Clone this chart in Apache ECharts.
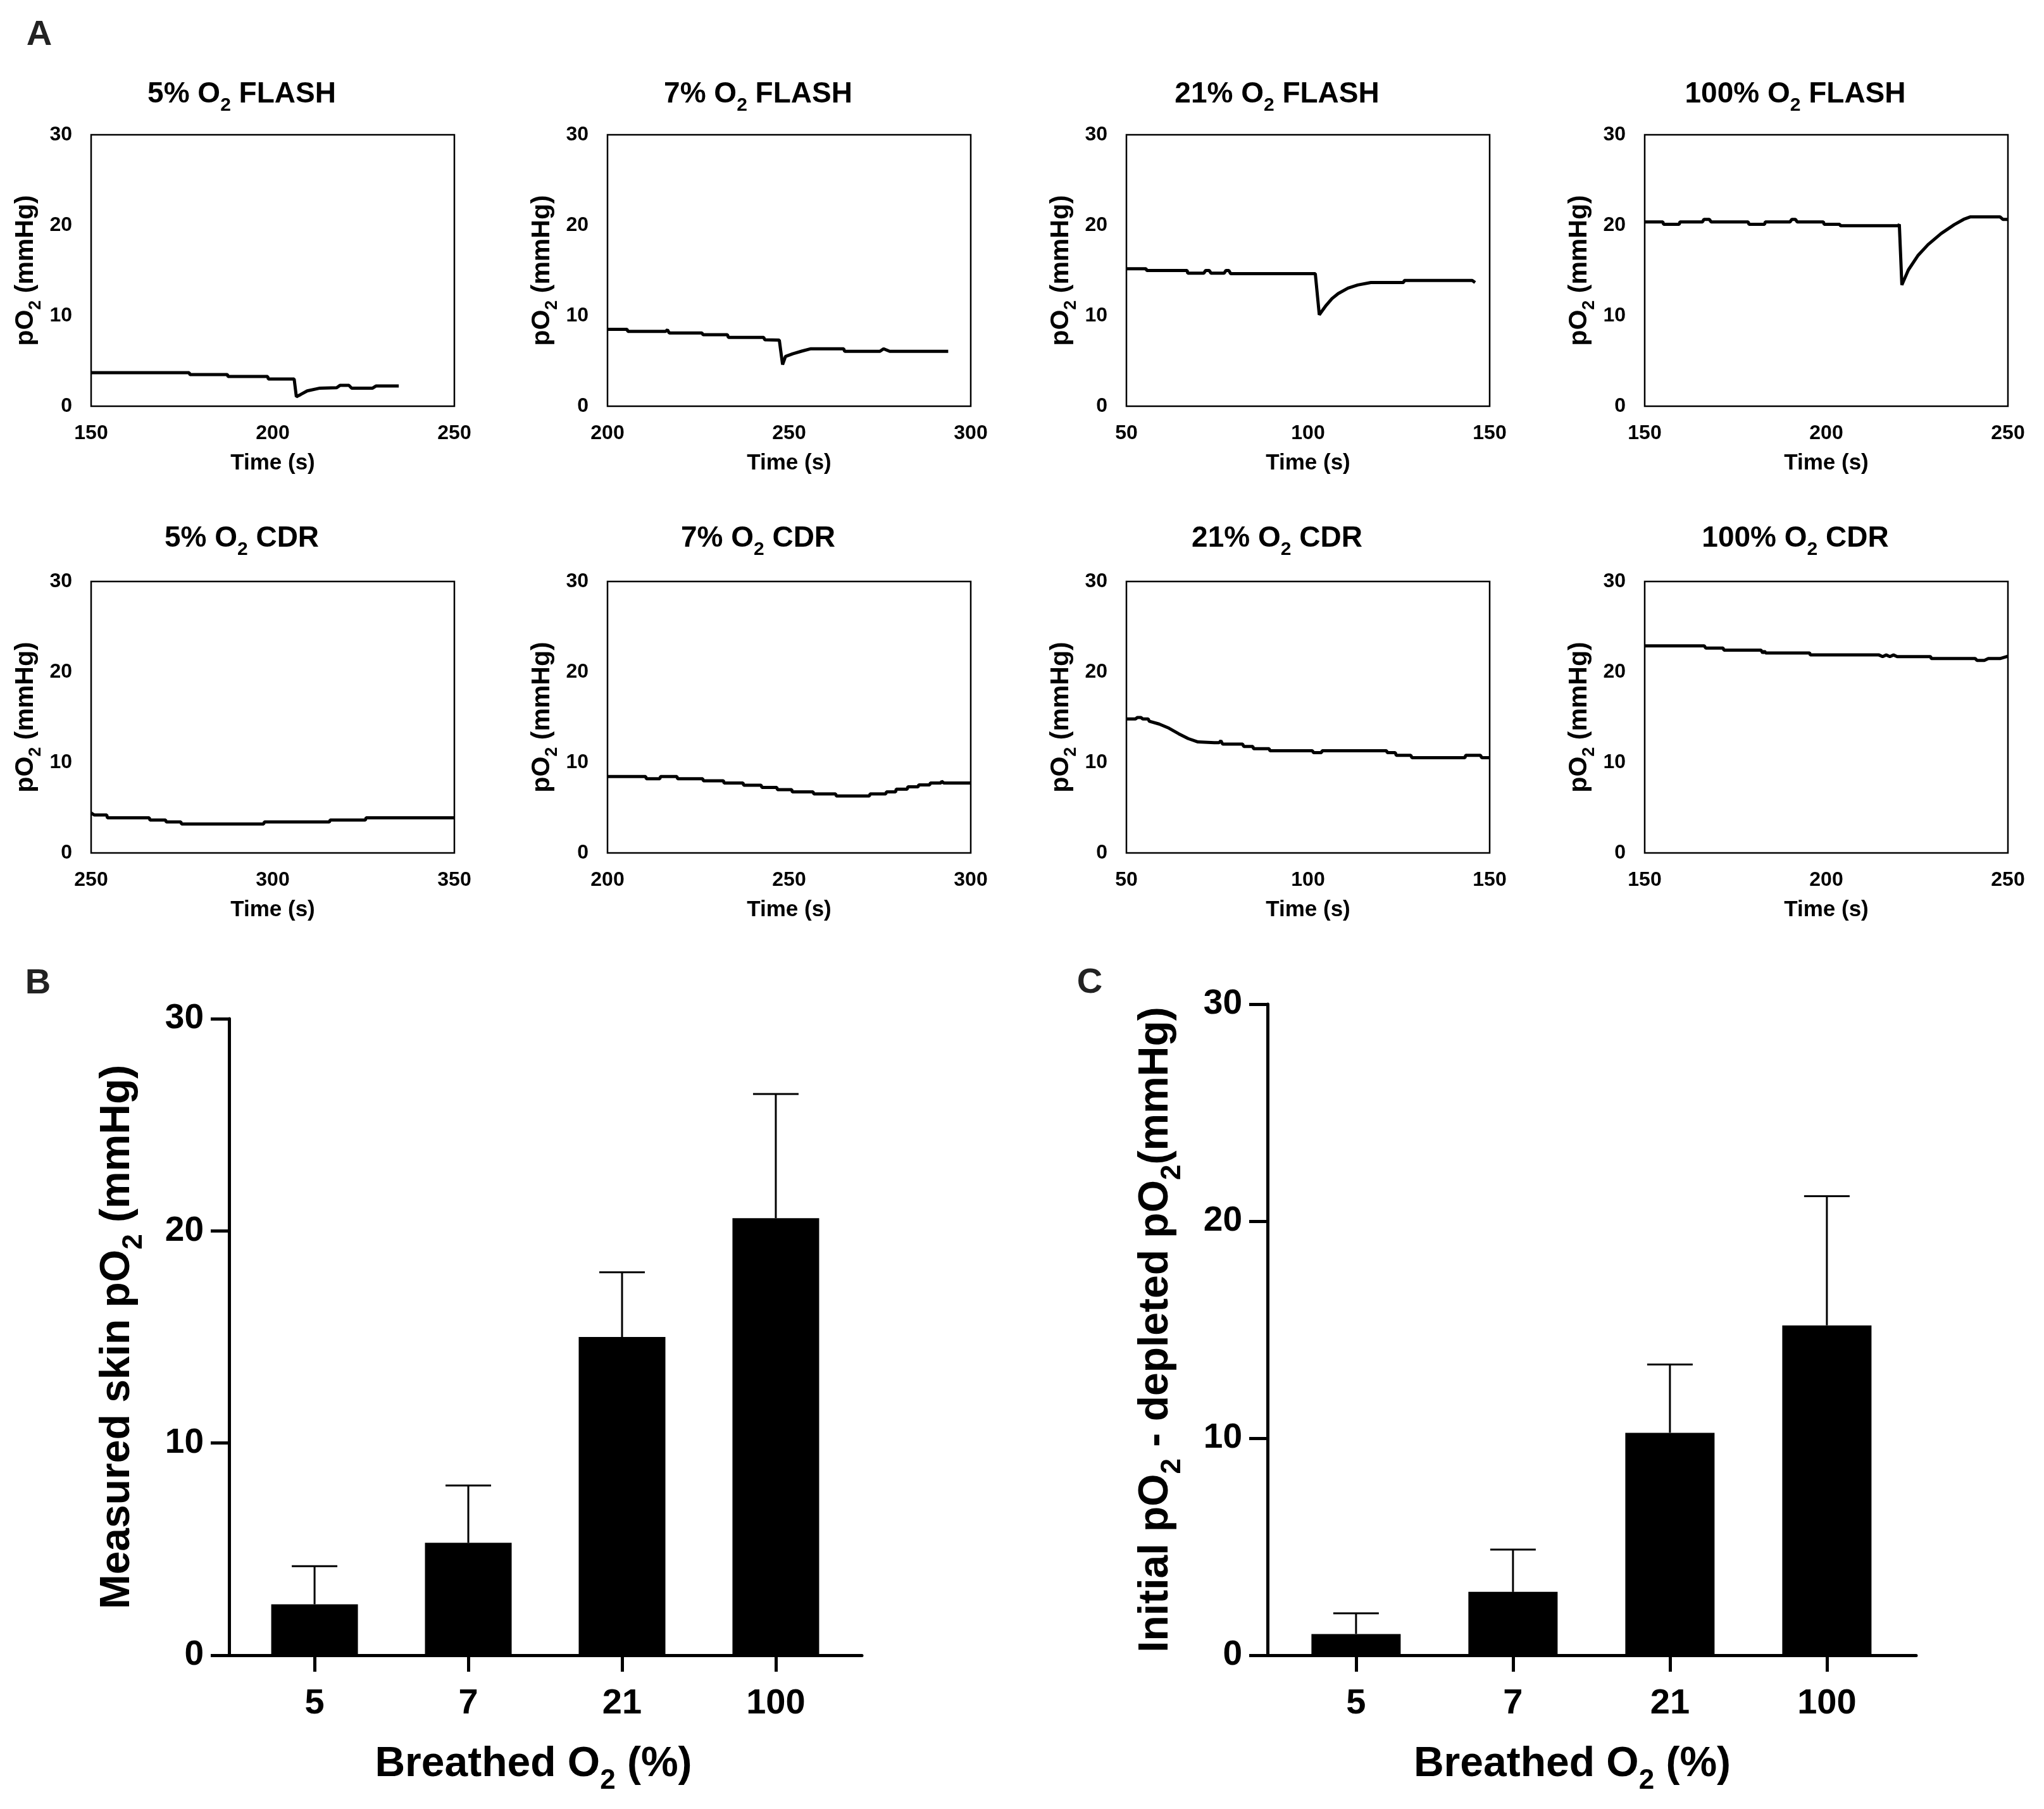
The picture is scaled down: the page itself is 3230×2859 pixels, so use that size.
<!DOCTYPE html>
<html><head><meta charset="utf-8">
<script src="https://cdn.jsdelivr.net/npm/echarts@6/dist/echarts.min.js"></script>
<style>html,body{margin:0;padding:0;background:#fff}#c{width:3230px;height:2859px}</style>
</head><body><div id="c"></div><script>
const FONT = '"Liberation Sans", Arial, Helvetica, sans-serif';

// ---------- Panel A traces: [time (s), pO2 (mmHg)] ----------
const flash5 = [[150,3.7],[177,3.7],[177.2,3.5],[187.5,3.5],[187.7,3.28],[198.6,3.28],[198.8,3.0],[205.9,3.0],[206.5,1.05],[207.7,1.3],[209.5,1.7],[213,2.0],[217.6,2.05],[218.5,2.3],[221,2.3],[221.7,2.0],[227.5,2.0],[228.4,2.23],[234.7,2.23]];
const flash7 = [[200,8.5],[205.4,8.5],[205.6,8.27],[216,8.27],[216.5,8.45],[217,8.1],[226,8.1],[226.3,7.9],[233,7.9],[233.3,7.6],[243,7.6],[243.3,7.35],[247.3,7.3],[248.2,4.6],[249,5.5],[251,5.8],[253.6,6.1],[256,6.35],[265,6.35],[265.3,6.07],[275,6.07],[276,6.35],[277.7,6.07],[293.8,6.07]];
const flash21 = [[50,15.2],[55.4,15.2],[55.6,15.0],[66.7,15.0],[66.9,14.7],[71.3,14.7],[71.8,15.0],[72.8,15.0],[73.3,14.7],[76.9,14.7],[77.4,15.0],[78.2,15.0],[78.7,14.65],[102,14.65],[103.1,10.1],[104.8,11.05],[106.6,11.9],[108.3,12.45],[111,13.05],[113.7,13.4],[117.3,13.67],[126.3,13.67],[126.5,13.9],[145.2,13.9],[146,13.67]];
const flash100 = [[150,20.37],[155,20.37],[155.2,20.1],[159.5,20.1],[159.7,20.37],[165.9,20.37],[166.3,20.65],[167.8,20.65],[168.3,20.37],[178.5,20.37],[178.7,20.1],[183,20.1],[183.2,20.37],[190,20.37],[190.5,20.65],[191.5,20.65],[192,20.37],[199.2,20.37],[199.4,20.1],[203.7,20.1],[203.9,19.95],[219.8,19.95],[220.1,20.1],[220.8,13.4],[222.6,15.07],[225.2,16.64],[228,17.86],[231.6,19.08],[235.2,20.06],[237.8,20.65],[239.7,20.93],[247.8,20.93],[248.6,20.65],[250,20.65]];
const cdr5 = [[250,4.41],[250.9,4.19],[254.3,4.19],[254.5,3.88],[266,3.88],[266.2,3.63],[270.5,3.63],[270.7,3.42],[274.7,3.42],[274.9,3.2],[297.5,3.2],[297.7,3.42],[315.6,3.42],[315.8,3.63],[325.5,3.63],[325.7,3.88],[350,3.88]];
const cdr7 = [[200,8.45],[210.5,8.45],[210.7,8.2],[214.4,8.2],[214.6,8.45],[219.1,8.45],[219.3,8.2],[226.2,8.2],[226.4,7.98],[231.9,7.98],[232.1,7.73],[237.3,7.73],[237.5,7.48],[242.3,7.48],[242.5,7.24],[246.6,7.24],[246.8,6.99],[250.7,6.99],[250.9,6.74],[256.6,6.74],[256.8,6.52],[262.8,6.52],[263,6.3],[272.1,6.3],[272.3,6.52],[276.6,6.52],[276.8,6.74],[279.3,6.74],[279.5,7.05],[282.5,7.05],[282.7,7.3],[285.5,7.3],[285.7,7.52],[288.7,7.52],[288.9,7.73],[291.8,7.73],[292,7.92],[292.6,7.73],[300,7.73]];
const cdr21 = [[50,14.81],[52.5,14.81],[53,14.97],[54,14.97],[54.5,14.81],[56,14.81],[56.3,14.56],[59,14.25],[61.7,13.79],[64.4,13.17],[67,12.64],[69.7,12.27],[74.2,12.18],[75.5,12.18],[76,12.4],[76.5,12.02],[82,12.02],[82.3,11.77],[84.8,11.77],[85,11.52],[89.3,11.52],[89.5,11.3],[101.2,11.3],[101.5,11.09],[103.7,11.09],[103.9,11.3],[121.6,11.3],[121.8,11.09],[124,11.09],[124.3,10.78],[128.3,10.78],[128.6,10.53],[143.2,10.53],[143.4,10.78],[147.5,10.78],[147.8,10.53],[150,10.53]];
const cdr100 = [[150,22.89],[166.4,22.89],[166.8,22.64],[171.6,22.64],[171.8,22.42],[182,22.42],[182.5,22.1],[183,22.3],[183.3,22.1],[195.4,22.1],[195.6,21.88],[214.5,21.88],[215.5,21.7],[216.5,21.88],[217.5,21.7],[218.5,21.88],[219.5,21.7],[228.7,21.7],[228.9,21.48],[241,21.48],[241.5,21.27],[243.5,21.27],[244.6,21.48],[247.8,21.48],[250,21.74]];

const traceSets = [flash5, flash7, flash21, flash100, cdr5, cdr7, cdr21, cdr100];
const tracePercents = ['5%', '7%', '21%', '100%', '5%', '7%', '21%', '100%'];
const traceMethods = ['FLASH', 'FLASH', 'FLASH', 'FLASH', 'CDR', 'CDR', 'CDR', 'CDR'];
const traceXMin = [150, 200, 50, 150, 250, 200, 50, 150];
const traceXMax = [250, 300, 150, 250, 350, 300, 150, 250];

// ---------- Panels B & C ----------
const breathed = ['5', '7', '21', '100'];
const skinMean = [2.4, 5.3, 15.0, 20.6];
const skinSD = [1.8, 2.7, 3.05, 5.85];
const diffMean = [0.98, 2.92, 10.25, 15.2];
const diffSD = [0.95, 1.95, 3.15, 5.95];

// ---------- layout ----------
const rowLeft = [144, 960, 1780, 2599];
const rowTop = [213, 919];
const PW = 574, PH = 429;

const chart = echarts.init(document.getElementById('c'), null, {renderer: 'canvas'});

const titleRich = (fs, sfs) => ({
  m: {fontSize: fs, fontWeight: 'bold', fontFamily: FONT, color: '#000', verticalAlign: 'bottom', padding: [0, 0, Math.round(fs * 0.22), 0]},
  s: {fontSize: sfs, fontWeight: 'bold', fontFamily: FONT, color: '#000', verticalAlign: 'bottom'}
});

const grids = [], xAxes = [], yAxes = [], series = [], titles = [];

traceSets.forEach((d, i) => {
  const r = Math.floor(i / 4), c = i % 4;
  const left = rowLeft[c], top = rowTop[r];
  grids.push({left: left, top: top, width: PW, height: PH, show: true, borderColor: '#000', borderWidth: 2.5, backgroundColor: 'transparent', containLabel: false});
  xAxes.push({
    gridIndex: i, type: 'value', min: traceXMin[i], max: traceXMax[i], interval: 50,
    name: 'Time (s)', nameLocation: 'middle', nameGap: 73,
    nameTextStyle: {fontSize: 35, fontWeight: 'bold', fontFamily: FONT, color: '#000'},
    axisLine: {show: false}, axisTick: {show: false}, splitLine: {show: false},
    axisLabel: {fontSize: 32, fontWeight: 'bold', fontFamily: FONT, color: '#000', margin: 27}
  });
  yAxes.push({
    gridIndex: i, type: 'value', min: 0, max: 30, interval: 10,
    name: '{m|pO}{s|2}{m| (mmHg)}', nameLocation: 'middle', nameGap: 74,
    nameTextStyle: {rich: titleRich(41, 27)},
    axisLine: {show: false}, axisTick: {show: false}, splitLine: {show: false},
    axisLabel: {fontSize: 32, fontWeight: 'bold', fontFamily: FONT, color: '#000', margin: 30}
  });
  series.push({
    type: 'line', xAxisIndex: i, yAxisIndex: i, data: d, showSymbol: false, symbol: 'none',
    lineStyle: {color: '#000', width: 5}, animation: false, z: 3
  });
  titles.push({
    text: '{m|' + tracePercents[i] + ' O}{s|2}{m| ' + traceMethods[i] + '}',
    left: left + 238, top: r === 0 ? 126 : 828, textAlign: 'center', padding: 0,
    textStyle: {rich: titleRich(46, 30)}
  });
});

// Bar panels
const barPanels = [
  {left: 362, top: 1610, width: 1000, height: 1006, min: -0.556, max: 3.56, mean: skinMean, sd: skinSD, bw: 137,
   yname: '{m|Measured skin pO}{s|2}{m| (mmHg)}', xpad: 38},
  {left: 2003, top: 1587, width: 1025, height: 1029, min: -0.564, max: 3.569, mean: diffMean, sd: diffSD, bw: 141,
   yname: '{m|Initial pO}{s|2}{m| - depleted pO}{s|2}{m|(mmHg)}', xpad: 62}
];
barPanels.forEach((p, k) => {
  const gi = grids.length;
  grids.push({left: p.left, top: p.top, width: p.width, height: p.height, show: false});
  xAxes.push({
    gridIndex: gi, type: 'value', min: p.min, max: p.max,
    name: '{m|Breathed O}{s|2}{m| (%)}', nameLocation: 'middle', nameGap: 140,
    nameTextStyle: {rich: titleRich(66, 44), padding: [0, p.xpad, 0, 0]},
    axisLine: {show: true, onZero: false, lineStyle: {color: '#000', width: 5}},
    axisTick: {show: true, customValues: [0, 1, 2, 3], length: 26, lineStyle: {color: '#000', width: 5}},
    axisLabel: {customValues: [0, 1, 2, 3], formatter: v => breathed[Math.round(v)], fontSize: 56, fontWeight: 'bold', fontFamily: FONT, color: '#000', margin: 49},
    splitLine: {show: false}
  });
  yAxes.push({
    gridIndex: gi, type: 'value', min: 0, max: 30, interval: 10,
    name: p.yname, nameLocation: 'middle', nameGap: 128,
    nameTextStyle: {rich: titleRich(66, 44)},
    axisLine: {show: true, onZero: false, lineStyle: {color: '#000', width: 5}},
    axisTick: {show: true, length: 29, lineStyle: {color: '#000', width: 5}},
    axisLabel: {fontSize: 55, fontWeight: 'bold', fontFamily: FONT, color: '#000', margin: 40},
    splitLine: {show: false}
  });
  series.push({
    type: 'bar', xAxisIndex: gi, yAxisIndex: gi, barWidth: p.bw,
    data: p.mean.map((v, i) => [i, v]), itemStyle: {color: '#000'}, animation: false, z: 2
  });
  series.push({
    type: 'custom', xAxisIndex: gi, yAxisIndex: gi, animation: false, z: 3,
    data: p.mean.map((v, i) => [i, v, v + p.sd[i]]),
    renderItem: (params, api) => {
      const a = api.coord([api.value(0), api.value(1)]);
      const b = api.coord([api.value(0), api.value(2)]);
      const hw = 36;
      return {type: 'group', children: [
        {type: 'line', shape: {x1: a[0], y1: a[1], x2: b[0], y2: b[1]}, style: {stroke: '#000', lineWidth: 3}},
        {type: 'line', shape: {x1: b[0] - hw, y1: b[1], x2: b[0] + hw, y2: b[1]}, style: {stroke: '#000', lineWidth: 3}}
      ]};
    }
  });
});

// Panel letters
[['A', 62, 58], ['B', 60, 1557], ['C', 1722, 1556]].forEach(t => {
  titles.push({text: t[0], left: t[1], top: t[2] - 30, textAlign: 'center', padding: 0,
    textStyle: {fontSize: 56, fontWeight: 'bold', fontFamily: FONT, color: '#222'}});
});

chart.setOption({
  backgroundColor: '#fff',
  animation: false,
  title: titles,
  grid: grids,
  xAxis: xAxes,
  yAxis: yAxes,
  series: series
});
</script></body></html>
